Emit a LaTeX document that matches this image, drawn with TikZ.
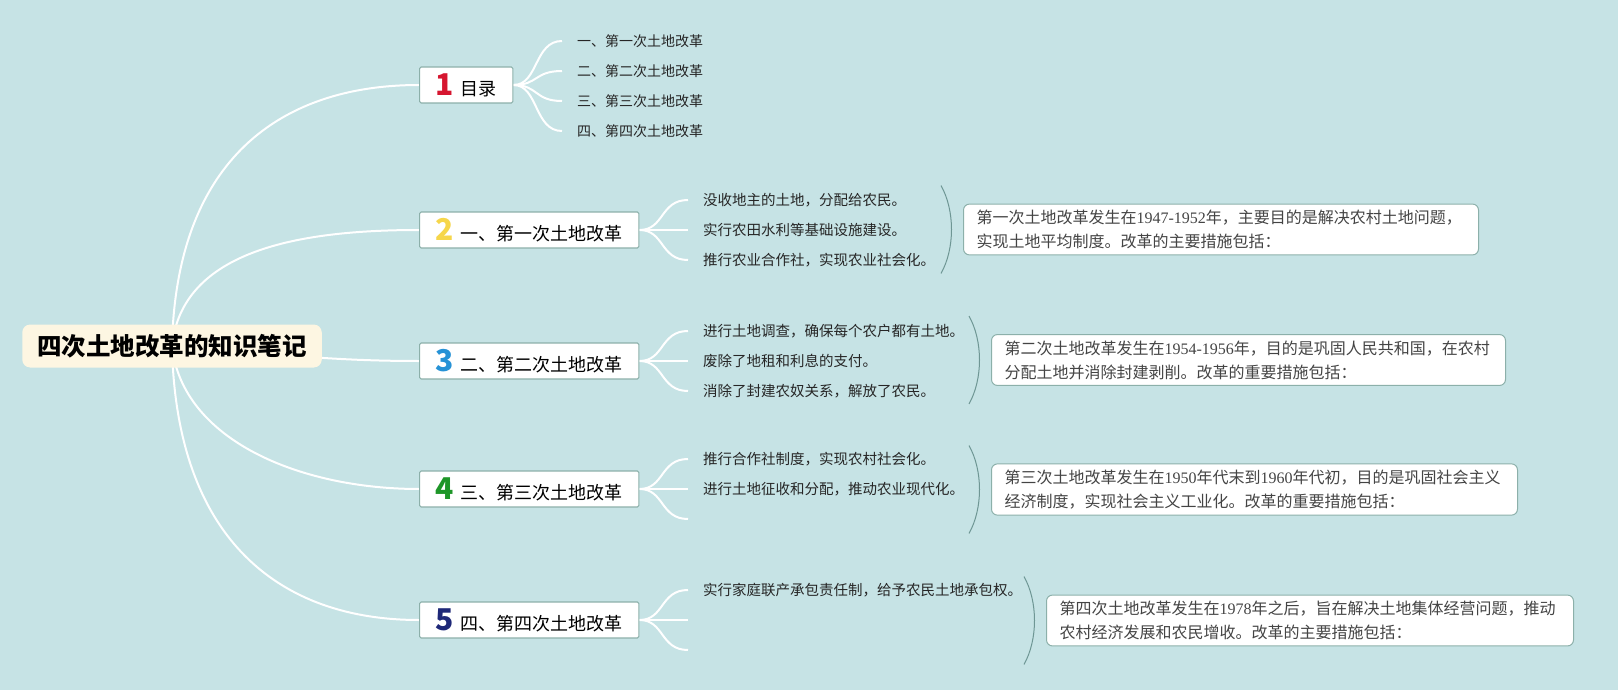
\documentclass[tikz,border=0pt]{standalone}
\usepackage{fontspec}
\setmainfont{Liberation Serif}
\newfontfamily\cjk{Noto Sans CJK SC}
\usetikzlibrary{calc,backgrounds}
\definecolor{mapBg}{RGB}{198,227,229}
\definecolor{rootFill}{RGB}{253,246,226}
\definecolor{topicLine}{RGB}{140,176,170}
\definecolor{braceLine}{RGB}{110,150,148}
\definecolor{noteText}{RGB}{68,68,68}
\definecolor{badgeRed}{RGB}{214,22,48}
\definecolor{badgeYellow}{RGB}{246,214,74}
\definecolor{badgeBlue}{RGB}{38,146,214}
\definecolor{badgeGreen}{RGB}{30,150,40}
\definecolor{badgeNavy}{RGB}{30,40,120}
% numbered badge in front of a topic
\newcommand{\badge}[2]{{\color{#1}\fontsize{30}{30}\selectfont\bfseries #2}\hspace{7pt}}
% years are set in a serif
\newcommand{\yr}[1]{{\rmfamily #1}}
\tikzset{
  rootbox/.style={fill=rootFill, rounded corners=8pt, inner xsep=15pt, minimum height=43pt,
    font=\cjk\bfseries\fontsize{24.5}{28}\selectfont},
  topic/.style={draw=topicLine, line width=1.2pt, fill=white, rounded corners=1.5pt, anchor=west,
    minimum height=36pt, inner xsep=16pt, inner ysep=0pt, font=\cjk\fontsize{18}{20}\selectfont},
  leaf/.style={anchor=west, inner xsep=15pt, inner ysep=0pt, text=black!85,
    font=\cjk\fontsize{14.5}{16}\selectfont},
  note/.style={draw=topicLine, line width=1pt, fill=white, rounded corners=6pt, anchor=west,
    inner xsep=13pt, inner ysep=6pt, align=left, text=noteText, font=\cjk\fontsize{16}{24}\selectfont},
  link/.style={white, line width=2pt},
  brace/.style={braceLine, line width=1pt},
}
\begin{document}
\begin{tikzpicture}[x=1pt,y=-1pt]
  % Canvas
  \begin{pgfonlayer}{background}
    \fill[mapBg] (0,0) rectangle (1618,690);
  \end{pgfonlayer}
  \useasboundingbox (0,0) rectangle (1618,690);

  % Root
  \node[rootbox] (root) at (172,346) {四次土地改革的知识笔记};

  % Main topics
  \node[topic] (t1) at (419,85)  {\badge{badgeRed}{1}目录};
  \node[topic] (t2) at (419,230) {\badge{badgeYellow}{2}一、第一次土地改革};
  \node[topic] (t3) at (419,361) {\badge{badgeBlue}{3}二、第二次土地改革};
  \node[topic] (t4) at (419,489) {\badge{badgeGreen}{4}三、第三次土地改革};
  \node[topic] (t5) at (419,620) {\badge{badgeNavy}{5}四、第四次土地改革};

  % Root to topics
  \begin{pgfonlayer}{background}
    \draw[link] (root.center) .. controls (176,160) and (280,85) .. (t1.west);
    \draw[link] (root.center) .. controls (182,250) and (300,230) .. (t2.west);
    \draw[link] (root.center) .. controls (300,357) and (350,361) .. (t3.west);
    \draw[link] (root.center) .. controls (182,440) and (300,489) .. (t4.west);
    \draw[link] (root.center) .. controls (176,540) and (280,620) .. (t5.west);
  \end{pgfonlayer}

  % Contents list
  \foreach \txt [count=\k] in {一、第一次土地改革,二、第二次土地改革,三、第三次土地改革,四、第四次土地改革}{
    \node[leaf, font=\cjk\fontsize{14}{16}\selectfont] (l1\k) at (562,{11+30*\k}) {\txt};
    \begin{pgfonlayer}{background}
      \draw[link] (t1.east) .. controls +(25,0) and +(-28,0) .. (l1\k.west);
    \end{pgfonlayer}
  }

  % Measures of each reform
  \foreach \txt [count=\k] in {没收地主的土地，分配给农民。,实行农田水利等基础设施建设。,推行农业合作社，实现农业社会化。}{
    \node[leaf] (l2\k) at (688,{230+30*(\k-2)}) {\txt};
    \begin{pgfonlayer}{background}
      \draw[link] (t2.east) .. controls +(25,0) and +(-28,0) .. (l2\k.west);
    \end{pgfonlayer}
  }
  \foreach \txt [count=\k] in {进行土地调查，确保每个农户都有土地。,废除了地租和利息的支付。,消除了封建农奴关系，解放了农民。}{
    \node[leaf] (l3\k) at (688,{361+30*(\k-2)}) {\txt};
    \begin{pgfonlayer}{background}
      \draw[link] (t3.east) .. controls +(25,0) and +(-28,0) .. (l3\k.west);
    \end{pgfonlayer}
  }
  \foreach \txt [count=\k] in {推行合作社制度，实现农村社会化。,进行土地征收和分配，推动农业现代化。,{}}{
    \node[leaf] (l4\k) at (688,{489+30*(\k-2)}) {\txt};
    \begin{pgfonlayer}{background}
      \draw[link] (t4.east) .. controls +(25,0) and +(-28,0) .. (l4\k.west);
    \end{pgfonlayer}
  }
  \foreach \txt [count=\k] in {实行家庭联产承包责任制，给予农民土地承包权。,{},{}}{
    \node[leaf] (l5\k) at (688,{620+30*(\k-2)}) {\txt};
    \begin{pgfonlayer}{background}
      \draw[link] (t5.east) .. controls +(25,0) and +(-28,0) .. (l5\k.west);
    \end{pgfonlayer}
  }

  % Summaries
  \node[note, text width=489pt] (d2) at (963,229.5)
    {第一次土地改革发生在\yr{1947-1952}年，主要目的是解决农村土地问题，\\实现土地平均制度。改革的主要措施包括：};
  \node[note, text width=488pt] (d3) at (991,360)
    {第二次土地改革发生在\yr{1954-1956}年，目的是巩固人民共和国，在农村\\分配土地并消除封建剥削。改革的重要措施包括：};
  \node[note, text width=500pt] (d4) at (991,489.5)
    {第三次土地改革发生在\yr{1950}年代末到\yr{1960}年代初，目的是巩固社会主义\\经济制度，实现社会主义工业化。改革的重要措施包括：};
  \node[note, text width=501pt] (d5) at (1046,620.5)
    {第四次土地改革发生在\yr{1978}年之后，旨在解决土地集体经营问题，推动\\农村经济发展和农民增收。改革的主要措施包括：};

  % Summary brackets
  \foreach \n in {2,...,5}
    \draw[brace] ($(d\n.west)+(-22,-44)$) .. controls +(14,25) and +(14,-25) .. ($(d\n.west)+(-22,44)$);
\end{tikzpicture}
\end{document}
